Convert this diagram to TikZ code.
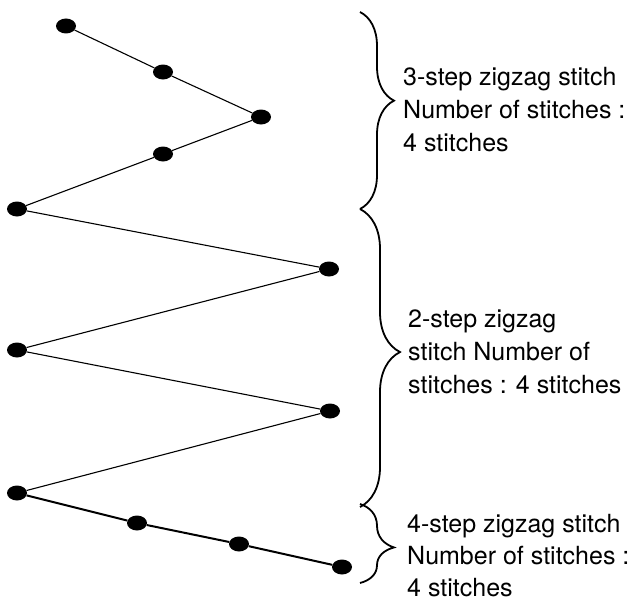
\documentclass[tikz,border=0pt]{standalone}
\usepackage{fontspec}
\setmainfont{TeX Gyre Heros}
\usetikzlibrary{shapes.geometric,decorations.pathreplacing}
\tikzset{stitchdot/.style={ellipse,fill=black,minimum width=20pt,minimum height=15pt,inner sep=0pt},
  seam/.style={line width=1.1pt,draw=black},
  thickseam/.style={seam,line width=2pt},
  grp/.style={decorate,decoration={brace,amplitude=34pt},line width=1.8pt},
  grplbl/.style={anchor=north west,inner sep=0pt,align=left,font=\fontsize{25}{33}\selectfont}}
\begin{document}
\begin{tikzpicture}[x=1pt,y=-1pt]
\useasboundingbox (0,0) rectangle (636,602);
% stitch points
\foreach \n/\p in {a/{66,26},b/{163,72},c/{261,117},d/{163,154},e/{17,209},f/{329,269},
  g/{17,350},h/{330,411},i/{17,493},j/{137,523},k/{239,544},l/{342,567}}{
\node[stitchdot] (\n) at (\p) {};
}
% zigzag
\draw[seam] (a) -- (b) -- (c) -- (d) -- (e) -- (f) -- (g) -- (h) -- (i);
\draw[thickseam] (i) -- (j) -- (k) -- (l);
% groups
\coordinate (b1t) at (360,12);
\coordinate (b1b) at (360,209);
\coordinate (b2b) at (360,507);
\coordinate (b3b) at (360,583);
\draw[grp,decoration={aspect=0.45}] (b1t) -- (b1b);
\draw[grp,decoration={aspect=0.48,amplitude=40pt}] (b1b) -- (b2b);
\draw[grp,decoration={aspect=0.55}] ([yshift=3pt]b2b) -- (b3b);
\node[grplbl] (t1) at (403,67) {3-step zigzag stitch\\Number of stitches :\\4 stitches};
\node[grplbl] (t2) at (408,310) {2-step zigzag\\stitch Number of\\stitches : 4 stitches};
\node[grplbl,font=\fontsize{25}{32}\selectfont] (t3) at (407,514) {4-step zigzag stitch\\Number of stitches :\\4 stitches};
\end{tikzpicture}
\end{document}
